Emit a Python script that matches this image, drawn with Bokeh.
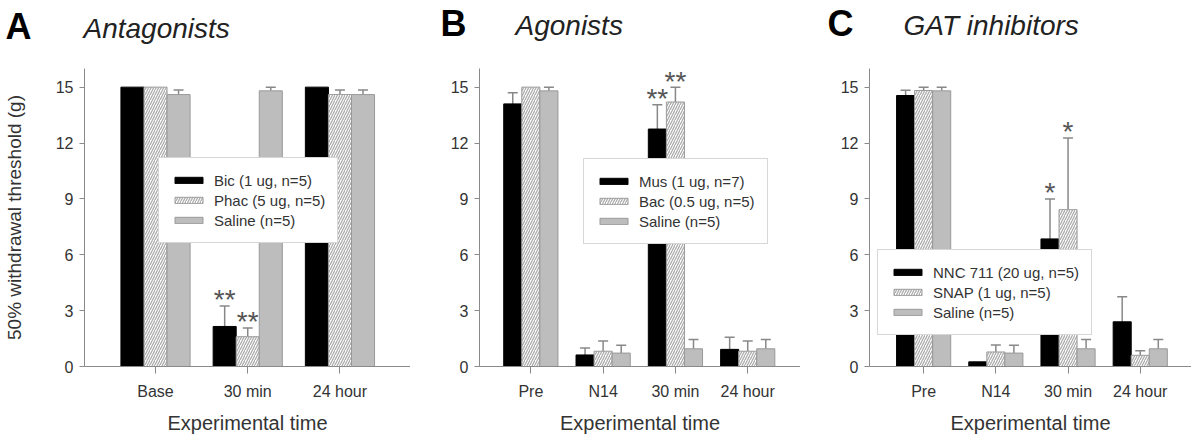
from bokeh.plotting import figure
from bokeh.layouts import row, column
from bokeh.models import (ColumnDataSource, FixedTicker, Legend, LegendItem, Label,
                          Whisker, TeeHead, Range1d)
from bokeh.embed import file_html
from bokeh.resources import INLINE

FONT = "Liberation Sans"

# ---------------- data ----------------
cats_A = ["Base", "30 min", "24 hour"]
bic = [15.0, 2.15, 15.0]
bic_sem = [0.0, 1.1, 0.0]
phac = [15.0, 1.6, 14.6]
phac_sem = [0.0, 0.47, 0.25]
salA = [14.6, 14.8, 14.6]
salA_sem = [0.25, 0.2, 0.25]
sig_bic = ["", "**", ""]
sig_phac = ["", "**", ""]

cats_B = ["Pre", "N14", "30 min", "24 hour"]
mus = [14.1, 0.62, 12.75, 0.92]
mus_sem = [0.6, 0.38, 1.3, 0.65]
bac = [15.0, 0.82, 14.2, 0.82]
bac_sem = [0.0, 0.55, 0.8, 0.55]
salB = [14.8, 0.72, 0.95, 0.95]
salB_sem = [0.2, 0.42, 0.5, 0.5]
sig_mus = ["", "", "**", ""]
sig_bac = ["", "", "**", ""]

cats_C = ["Pre", "N14", "30 min", "24 hour"]
nnc = [14.55, 0.25, 6.85, 2.4]
nnc_sem = [0.28, 0.0, 2.15, 1.35]
snap = [14.82, 0.78, 8.42, 0.6]
snap_sem = [0.18, 0.38, 3.85, 0.25]
salC = [14.8, 0.72, 0.95, 0.95]
salC_sem = [0.2, 0.42, 0.5, 0.5]
sig_nnc = ["", "", "*", ""]
sig_snap = ["", "", "*", ""]

panel_letters = ["A", "B", "C"]
panel_titles = ["Antagonists", "Agonists", "GAT inhibitors"]
y_ticks = [0, 3, 6, 9, 12, 15]

BAR_W = 0.25
AX = "#8a8a8a"
TXT = "#333333"
HEAD_H = 60


def panel(cats, series, width, left, xr, legend_xy, ylabel=None):
    p = figure(width=width, height=439 - HEAD_H, output_backend="svg", toolbar_location=None,
               x_range=Range1d(*xr), y_range=Range1d(0, 16),
               min_border_left=left, min_border_right=0,
               min_border_top=68 - HEAD_H, min_border_bottom=73)
    p.title = None
    p.outline_line_color = None
    p.xgrid.visible = False
    p.ygrid.visible = False

    items = []
    offsets = [-BAR_W, 0.0, BAR_W]
    for (label, vals, sems, sig, style), off in zip(series, offsets):
        xs = [i + off for i in range(len(cats))]
        src = ColumnDataSource(dict(x=xs, top=vals,
                                    up=[v + s for v, s in zip(vals, sems)],
                                    sig=sig))
        if style == "black":
            r = p.vbar(x="x", top="top", width=BAR_W, source=src,
                       fill_color="#000000", line_color="#000000")
        elif style == "hatch":
            r = p.vbar(x="x", top="top", width=BAR_W, source=src,
                       fill_color="white", line_color="#9a9a9a",
                       hatch_pattern="/", hatch_color="#adadad",
                       hatch_scale=5, hatch_weight=1.3)
        else:
            r = p.vbar(x="x", top="top", width=BAR_W, source=src,
                       fill_color="#bdbdbd", line_color="#999999")
        ws = ColumnDataSource(dict(
            x=[x for x, s in zip(xs, sems) if s > 0],
            lo=[v for v, s in zip(vals, sems) if s > 0],
            hi=[v + s for v, s in zip(vals, sems) if s > 0]))
        w = Whisker(base="x", lower="lo", upper="hi", source=ws,
                    line_color="#888888", line_width=1.5,
                    upper_head=TeeHead(size=10, line_color="#888888", line_width=1.5),
                    lower_head=None)
        p.add_layout(w)
        p.text(x="x", y="up", text="sig", source=src,
               text_font={"value": FONT}, text_font_size="28px",
               text_color="#555555", text_align="center",
               text_baseline="middle", y_offset=-6)
        items.append(LegendItem(label=label, renderers=[r]))

    leg = Legend(items=items, location=legend_xy, glyph_width=35, glyph_height=8,
                 label_text_font=FONT, label_text_font_size="15px",
                 label_text_color=TXT, label_height=20, spacing=0, padding=12,
                 margin=0, label_standoff=8, border_line_color="#b0b0b0",
                 border_line_width=1, background_fill_alpha=1.0)
    p.add_layout(leg)

    for ax in (p.xaxis[0], p.yaxis[0]):
        ax.axis_line_color = AX
        ax.major_tick_line_color = AX
        ax.minor_tick_line_color = None
        ax.major_tick_in = 0
        ax.major_label_text_font = FONT
        ax.major_label_text_font_size = "16px"
        ax.major_label_text_color = TXT
        ax.axis_label_text_font = FONT
        ax.axis_label_text_font_style = "normal"
        ax.axis_label_text_color = TXT
    p.yaxis.ticker = FixedTicker(ticks=y_ticks)
    p.yaxis.major_tick_out = 5
    p.yaxis.major_label_standoff = 6
    p.xaxis.ticker = FixedTicker(ticks=list(range(len(cats))))
    p.xaxis.major_label_overrides = {i: c for i, c in enumerate(cats)}
    p.xaxis.major_tick_out = 7
    p.xaxis.major_label_standoff = 9
    p.xaxis.axis_label = "Experimental time"
    p.xaxis.axis_label_text_font_size = "20px"
    p.xaxis.axis_label_standoff = 9
    if ylabel:
        p.yaxis.axis_label = ylabel
        p.yaxis.axis_label_text_font_size = "19px"
        p.yaxis.axis_label_standoff = 28
    return p


# header strip carrying the panel letters and titles
head = figure(width=1191, height=HEAD_H, output_backend="svg", toolbar_location=None,
              x_range=Range1d(0, 1191), y_range=Range1d(0, HEAD_H),
              min_border=0, x_axis_type=None, y_axis_type=None)
head.title = None
head.outline_line_color = None
head.xgrid.visible = False
head.ygrid.visible = False
letter_x = [5, 440, 827]
title_x = [83, 515, 903]
letter_base = [39, 36, 36]   # baseline, px from top
title_base = [38, 35, 35]
LS, TS = 36, 28
for L, T, lx, tx, lb, tb in zip(panel_letters, panel_titles, letter_x, title_x,
                                letter_base, title_base):
    head.add_layout(Label(x=lx, y=HEAD_H - (lb - 0.35 * LS), text=L, text_font=FONT,
                          text_font_size=f"{LS}px", text_font_style="bold",
                          text_color="#000000", text_baseline="middle"))
    head.add_layout(Label(x=tx, y=HEAD_H - (tb - 0.35 * TS), text=T, text_font=FONT,
                          text_font_size=f"{TS}px", text_font_style="italic",
                          text_color="#222222", text_baseline="middle"))

pA = panel(cats_A,
           [("Bic (1 ug, n=5)", bic, bic_sem, sig_bic, "black"),
            ("Phac (5 ug, n=5)", phac, phac_sem, sig_phac, "hatch"),
            ("Saline (n=5)", salA, salA_sem, ["", "", ""], "gray")],
           410, 83, (-0.77, 2.765), (74, 123),
           ylabel="50% withdrawal threshold (g)")

pB = panel(cats_B,
           [("Mus (1 ug, n=7)", mus, mus_sem, sig_mus, "black"),
            ("Bac (0.5 ug, n=5)", bac, bac_sem, sig_bac, "hatch"),
            ("Saline (n=5)", salB, salB_sem, ["", "", "", ""], "gray")],
           390, 69, (-0.71, 3.73), (104, 122))

pC = panel(cats_C,
           [("NNC 711 (20 ug, n=5)", nnc, nnc_sem, sig_nnc, "black"),
            ("SNAP (1 ug, n=5)", snap, snap_sem, sig_snap, "hatch"),
            ("Saline (n=5)", salC, salC_sem, ["", "", "", ""], "gray")],
           391, 69, (-0.75, 3.71), (8, 31))

layout = column(head, row(pA, pB, pC, spacing=0), spacing=0)
open("out.html", "w").write(file_html(layout, INLINE))
